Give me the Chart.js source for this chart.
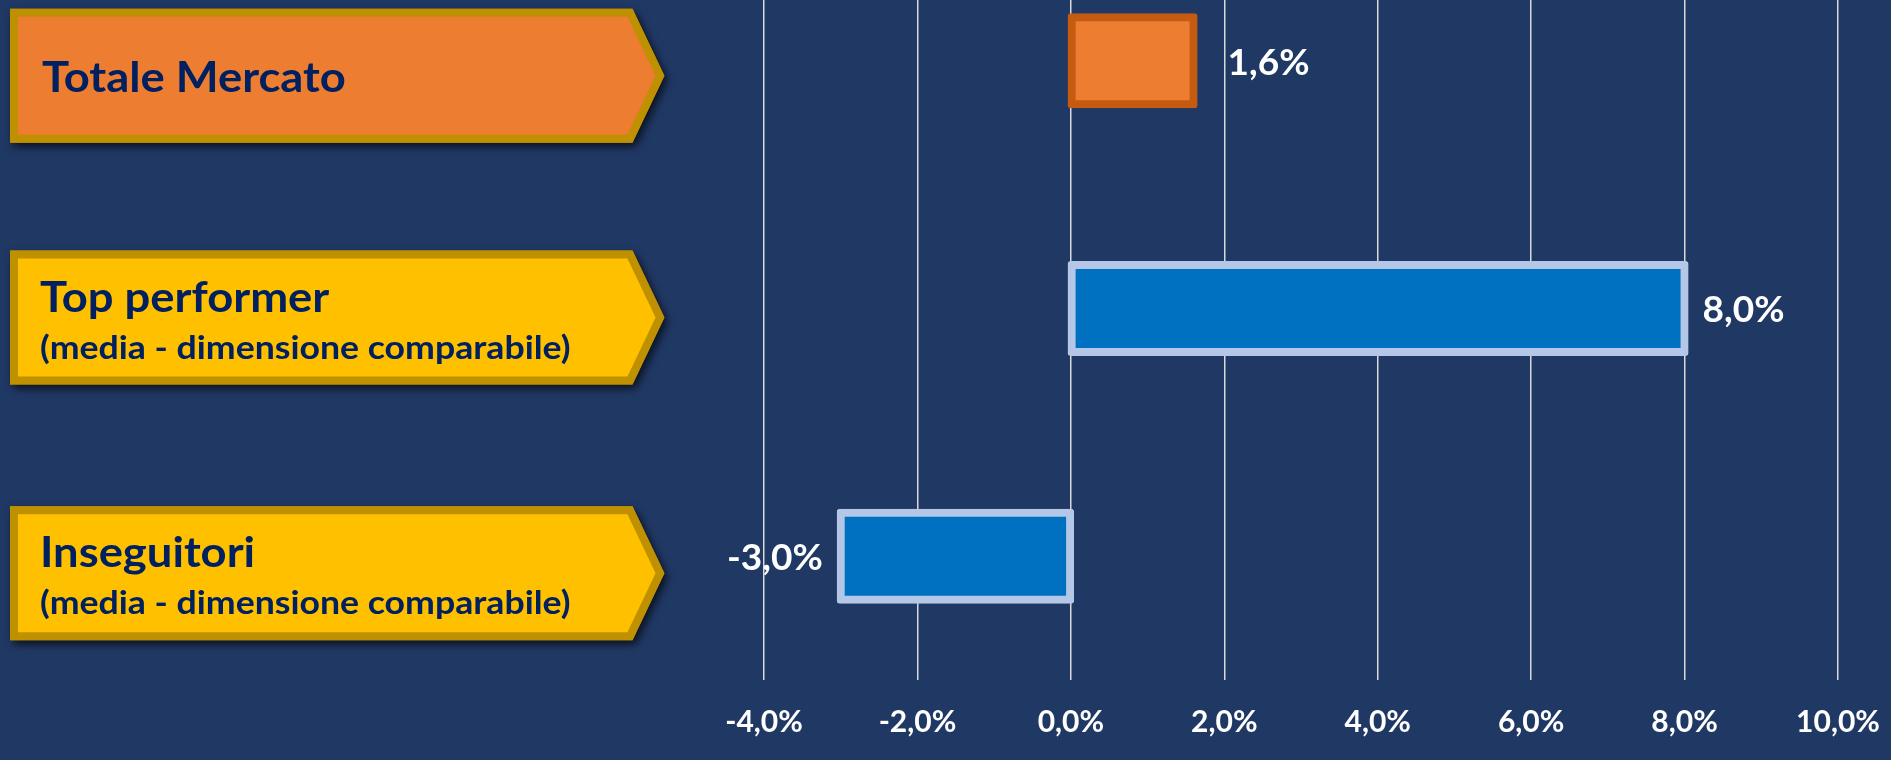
<!DOCTYPE html>
<html>
<head>
<meta charset="utf-8">
<script src="https://cdn.jsdelivr.net/npm/chart.js@4.4.1/dist/chart.umd.min.js"></script>
<style>
  html, body { margin: 0; padding: 0; background: #203864; overflow: hidden; }
  /* canvas starts above the page so the category bands line up with the bars */
  #wrap { position: absolute; left: 0; top: -63px; width: 1891px; height: 823px; }
</style>
</head>
<body>
<div id="wrap"><canvas id="myChart"></canvas></div>
<script>
const categories = ['Totale Mercato', 'Top performer', 'Inseguitori'];
const subtitles = ['', '(media - dimensione comparabile)', '(media - dimensione comparabile)'];
const variation = [1.6, 8.0, -3.0];
const tickValues = [-4, -2, 0, 2, 4, 6, 8, 10];

const ctx = document.getElementById('myChart');

function pct(v) {
  return v.toFixed(1).replace('.', ',') + '%';
}

// text a bit wider than Lato draws it
function wideText(c, text, x, y) {
  c.save();
  c.translate(x, y);
  c.scale(1.08, 1);
  c.fillText(text, 0, 0);
  c.restore();
}

// arrow shaped boxes on the left with the category names
const boxShift = [15, 9, 17];
const labelBoxes = {
  id: 'labelBoxes',
  afterDraw(chart) {
    const c = chart.ctx;
    const yScale = chart.scales.y;
    categories.forEach((name, i) => {
      const cy = yScale.getPixelForValue(i) + boxShift[i];
      const left = 14, right = 630, tip = 660, half = 63;
      const path = () => {
        c.beginPath();
        c.moveTo(left, cy - half);
        c.lineTo(right, cy - half);
        c.lineTo(tip, cy);
        c.lineTo(right, cy + half);
        c.lineTo(left, cy + half);
        c.closePath();
      };
      c.save();
      c.lineWidth = 8;
      c.lineJoin = 'miter';
      c.fillStyle = i === 0 ? '#ED7D31' : '#FFC000';
      c.strokeStyle = '#BF9000';
      c.shadowColor = 'rgba(0,0,0,0.6)';
      c.shadowBlur = 8;
      c.shadowOffsetX = 3;
      c.shadowOffsetY = 4;
      path(); c.fill(); c.stroke();
      c.shadowColor = 'transparent';
      path(); c.fill(); c.stroke();

      c.fillStyle = '#002060';
      c.textAlign = 'left';
      c.textBaseline = 'alphabetic';
      c.font = 'bold 42px Lato';
      if (subtitles[i]) {
        wideText(c, name, 40, cy - 6);
        c.font = 'bold 33px Lato';
        wideText(c, subtitles[i], 40, cy + 41);
      } else {
        wideText(c, name, 42, cy + 16);
      }
      c.restore();
    });
  }
};

// value labels next to the bar ends
const valueLabels = {
  id: 'valueLabels',
  afterDatasetsDraw(chart) {
    const c = chart.ctx;
    const meta = chart.getDatasetMeta(0);
    c.save();
    c.fillStyle = '#FFFFFF';
    c.font = 'bold 37px Lato';
    c.textBaseline = 'middle';
    meta.data.forEach((bar, i) => {
      const v = variation[i];
      const gap = i === 0 ? 30 : 14;
      if (v >= 0) {
        c.textAlign = 'left';
        c.fillText(pct(v), bar.x + 4 + gap, bar.y + 2);
      } else {
        c.textAlign = 'right';
        c.fillText(pct(v), bar.x - 4 - gap, bar.y + 2);
      }
    });
    c.restore();
  }
};

new Chart(ctx, {
  type: 'bar',
  data: {
    labels: categories,
    datasets: [{
      label: 'Variazione',
      data: variation,
      backgroundColor: ['#ED7D31', '#0070C0', '#0070C0'],
      borderColor: ['#C55A11', '#B4C7E7', '#B4C7E7'],
      borderWidth: 8,
      borderSkipped: false,
      borderRadius: 3,
      inflateAmount: 4,
      barThickness: 87
    }]
  },
  options: {
    indexAxis: 'y',
    responsive: true,
    maintainAspectRatio: false,
    animation: false,
    layout: { padding: { left: 0, right: 53, top: 0, bottom: 0 } },
    plugins: {
      legend: { display: false },
      tooltip: { enabled: false }
    },
    scales: {
      x: {
        min: tickValues[0],
        max: tickValues[tickValues.length - 1],
        afterBuildTicks: function(scale) {
          scale.ticks = tickValues.map(v => ({ value: v }));
        },
        afterFit: function(scale) {
          scale.height = 80;
          // keep the end labels from pushing the plot area in
          scale.paddingLeft = 0;
          scale.paddingRight = 0;
        },
        grid: {
          color: '#D9D9D9',
          lineWidth: 1.5,
          drawTicks: false
        },
        border: { display: false },
        ticks: {
          padding: 24,
          color: '#FFFFFF',
          font: { family: 'Lato', weight: 'bold', size: 30 },
          callback: function(value) { return pct(value); }
        }
      },
      y: {
        afterFit: function(scale) {
          scale.width = 764;
        },
        grid: { display: false },
        border: { display: false },
        ticks: { display: false }
      }
    }
  },
  plugins: [labelBoxes, valueLabels]
});
</script>
</body>
</html>
